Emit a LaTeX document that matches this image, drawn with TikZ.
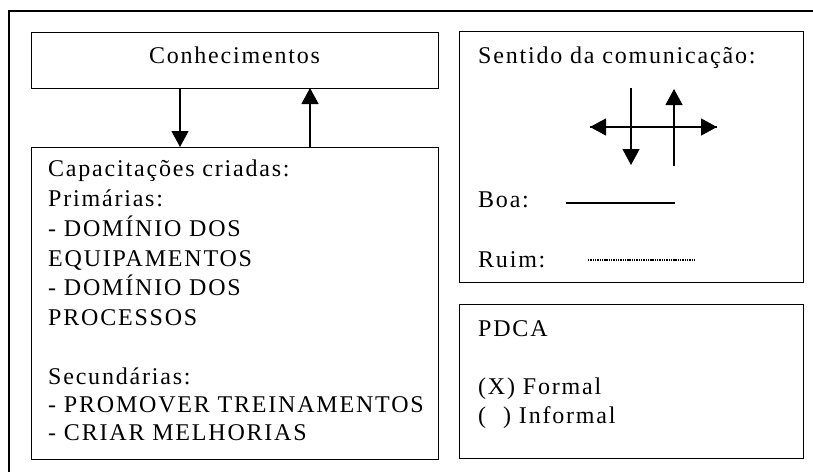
\documentclass[tikz,border=0pt]{standalone}
\usepackage{fontspec}
\setmainfont{Liberation Serif}[LetterSpace=7.5]
\usetikzlibrary{arrows.meta}
\tikzset{
  box/.style={draw, line width=1pt},
  txt/.style={anchor=base west, inner sep=0pt, font=\fontsize{24}{29}\selectfont},
  ctxt/.style={anchor=base, inner sep=0pt, font=\fontsize{24}{29}\selectfont},
  arr/.style={line width=1.2pt, -{Triangle[width=17pt,length=16pt]}},
}
\begin{document}
\begin{tikzpicture}[x=1pt,y=-1pt]
\useasboundingbox (0,0) rectangle (813,471);
% outer frame (only left and top visible)
\draw[line width=1.2pt] (9,480) -- (9,11) -- (830,11);
% Conhecimentos
\node[box, minimum width=407pt, minimum height=56pt, anchor=north west, inner sep=0pt] (con) at (31,32) {};
\node[ctxt] (contxt) at (234.5,63) {Conhecimentos};
% Capacitações box
\node[box, minimum width=407pt, minimum height=312pt, anchor=north west, inner sep=0pt] (cap) at (31,147) {};
\node[txt] (c1) at (48,176) {Capacitações criadas:};
\node[txt] (c2) at (48,206) {Primárias:};
\node[txt] (c3) at (48,236) {- DOMÍNIO DOS};
\node[txt] (c4) at (48,266) {EQUIPAMENTOS};
\node[txt] (c5) at (48,295) {- DOMÍNIO DOS};
\node[txt] (c6) at (48,325) {PROCESSOS};
\node[txt] (c7) at (48,384) {Secundárias:};
\node[txt] (c8) at (48,412) {- PROMOVER TREINAMENTOS};
\node[txt] (c9) at (48,440) {- CRIAR MELHORIAS};
% arrows between boxes
\coordinate (d1) at (180,88);
\coordinate (d2) at (180,147);
\coordinate (u1) at (310,147);
\coordinate (u2) at (310,88);
\draw[arr] (d1) -- (d2);
\draw[arr] (u1) -- (u2);
% Sentido box
\node[box, minimum width=344pt, minimum height=251pt, anchor=north west, inner sep=0pt] (sen) at (459,31) {};
\node[txt] (s1) at (478,63) {Sentido da comunicação:};
\coordinate (hl) at (590,127);
\coordinate (hr) at (717,127);
\coordinate (vd1) at (631,88);
\coordinate (vd2) at (631,165);
\coordinate (vu1) at (674,166);
\coordinate (vu2) at (674,89);
\draw[arr] (hr) -- (hl);
\draw[arr] (hl) -- (hr);
\draw[arr] (vd1) -- (vd2);
\draw[arr] (vu1) -- (vu2);
\node[txt] (boa) at (478,207) {Boa:};
\coordinate (b1) at (566,203);
\coordinate (b2) at (675,203);
\draw[line width=1.3pt] (b1) -- (b2);
\node[txt] (ruim) at (478,267) {Ruim:};
\coordinate (r1) at (588,260);
\coordinate (r2) at (695,260);
\draw[line width=1.4pt, dash pattern=on 1.4pt off 0.9pt] (r1) -- (r2);
% PDCA box
\node[box, minimum width=344pt, minimum height=154pt, anchor=north west, inner sep=0pt] (pdca) at (459,304) {};
\node[txt] (p1) at (478,336) {PDCA};
\node[txt] (p2) at (478,394) {(X) Formal};
\node[txt] (p3) at (478,423) {(\hspace{17pt}) Informal};
\end{tikzpicture}
\end{document}
